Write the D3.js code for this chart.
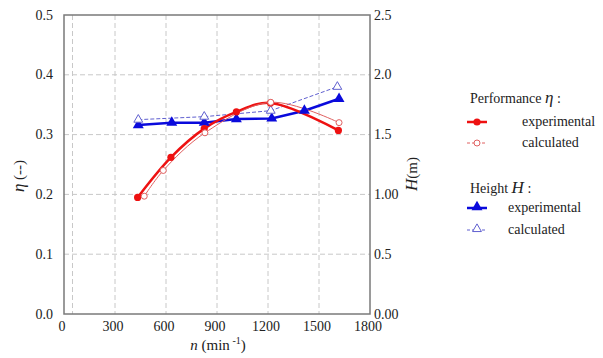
<!DOCTYPE html>
<html><head><meta charset="utf-8">
<script src="https://cdn.jsdelivr.net/npm/d3@7"></script>
<style>body{margin:0;background:#fff}svg{display:block}svg text,svg tspan{font-family:"Liberation Serif",serif !important;}</style>
</head><body><svg id="c" width="603" height="358"></svg>
<script>
const xTicks = [0,300,600,900,1200,1500,1800];
const xGrid = [50,300,600,900,1200,1500];
const etaTicks = [0,0.1,0.2,0.3,0.4,0.5];
const etaTickLabels = ["0.0","0.1","0.2","0.3","0.4","0.5"];
const hTicks = [0,0.5,1,1.5,2,2.5];
const hTickLabels = ["0.00","0.5","1.00","1.5","2.0","2.5"];

const etaExpN = [433,629,825,1014,1215,1614];
const etaExpV = [0.195,0.262,0.310,0.338,0.353,0.307];
const etaCalN = [472,584,829,1216,1618];
const etaCalV = [0.197,0.240,0.303,0.354,0.320];
const hExpN = [437,634,825,1014,1222,1414,1618];
const hExpV = [1.58,1.60,1.60,1.63,1.635,1.70,1.80];
const hCalN = [437,825,1216,1608];
const hCalV = [1.625,1.65,1.70,1.90];

const FF = "Liberation Serif";
const svg = d3.select("#c").style("font-family",FF);
const L=64,R=370,T=15,B=314;
const x = d3.scaleLinear().domain([0,1800]).range([L,R]);
const yE = d3.scaleLinear().domain([0,0.5]).range([B,T]);
const yH = d3.scaleLinear().domain([0,2.5]).range([B,T]);

const g = svg.append("g");
g.selectAll("line.v").data(xGrid).enter().append("line")
 .attr("x1",d=>x(d)).attr("x2",d=>x(d)).attr("y1",T).attr("y2",B)
 .attr("stroke","#c8c8c8").attr("stroke-width",1).attr("stroke-dasharray","5,3");
g.selectAll("line.h").data(etaTicks.slice(1,5)).enter().append("line")
 .attr("x1",L).attr("x2",R).attr("y1",d=>yE(d)).attr("y2",d=>yE(d))
 .attr("stroke","#c8c8c8").attr("stroke-width",1).attr("stroke-dasharray","5,3");

svg.append("rect").attr("x",L).attr("y",T).attr("width",R-L).attr("height",B-T)
 .attr("fill","none").attr("stroke","#7a7a7a").attr("stroke-width",1.5);

function txt(sel,x0,y0,s,anchor,size){
  const t = sel.append("text").attr("x",x0).attr("y",y0).attr("text-anchor",anchor||"start")
   .attr("font-size",size||14).attr("fill","#222").style("font-family",FF);
  t.append("tspan").style("font-family",FF).text(s);
  return t;
}
const fs=14;
xTicks.forEach(d=>txt(svg,x(d)-2,331,String(d),"middle",fs));
etaTicks.forEach((d,i)=>txt(svg,53,yE(d)+4.5,etaTickLabels[i],"end",fs));
hTicks.forEach((d,i)=>txt(svg,374,yH(d)+4.5,hTickLabels[i],"start",fs));

const xt = svg.append("text").attr("x",218).attr("y",350).attr("text-anchor","middle").attr("font-size",15).attr("fill","#222");
xt.append("tspan").attr("font-style","italic").text("n");
xt.append("tspan").text(" (min");
xt.append("tspan").attr("dy",-6).attr("font-size",10).text(" -1");
xt.append("tspan").attr("dy",6).text(")");

const yt = svg.append("text").attr("transform","translate(24,176) rotate(-90)").attr("text-anchor","middle").attr("font-size",15).attr("fill","#222");
yt.append("tspan").attr("font-style","italic").attr("font-size",17).text("η");
yt.append("tspan").text(" (--)");
const ht = svg.append("text").attr("transform","translate(417,174) rotate(-90)").attr("text-anchor","middle").attr("font-size",15).attr("fill","#222");
ht.append("tspan").attr("font-style","italic").attr("font-size",17).text("H");
ht.append("tspan").text("(m)");

const red="#ee1111", blue="#0a0adc", lred="#e06060", lblue="#6060d0";
const pts=(N,V)=>N.map((n,i)=>[n,V[i]]);
const lineE = d3.line().x(d=>x(d[0])).y(d=>yE(d[1])).curve(d3.curveCatmullRom.alpha(0.5));
const lineH = d3.line().x(d=>x(d[0])).y(d=>yH(d[1]));

const etaCal = pts(etaCalN,etaCalV), etaExp = pts(etaExpN,etaExpV);
const hCal = pts(hCalN,hCalV), hExp = pts(hExpN,hExpV);

svg.append("path").attr("d",lineH(hExp)).attr("fill","none").attr("stroke",blue).attr("stroke-width",2.5);
svg.append("path").attr("d",lineH(hCal)).attr("fill","none").attr("stroke",lblue).attr("stroke-width",1).attr("stroke-dasharray","4,2");
svg.append("path").attr("d",lineE(etaExp)).attr("fill","none").attr("stroke",red).attr("stroke-width",2.5);
svg.append("path").attr("d",lineE(etaCal)).attr("fill","none").attr("stroke",lred).attr("stroke-width",1);

const triBig = d3.symbol().type(d3.symbolTriangle).size(52)();
const triSmall = d3.symbol().type(d3.symbolTriangle).size(34)();
svg.selectAll("path.he").data(hExp).enter().append("path")
 .attr("d",triBig).attr("transform",d=>`translate(${x(d[0])},${yH(d[1])})`).attr("fill",blue);
svg.selectAll("path.hc").data(hCal).enter().append("path")
 .attr("d",triSmall).attr("transform",d=>`translate(${x(d[0])},${yH(d[1])})`)
 .attr("fill","#fff").attr("stroke",lblue).attr("stroke-width",1);
svg.selectAll("circle.ee").data(etaExp).enter().append("circle")
 .attr("cx",d=>x(d[0])).attr("cy",d=>yE(d[1])).attr("r",3.6).attr("fill",red);
svg.selectAll("circle.ec").data(etaCal).enter().append("circle")
 .attr("cx",d=>x(d[0])).attr("cy",d=>yE(d[1])).attr("r",3).attr("fill","#fff").attr("stroke",lred).attr("stroke-width",1);

const lg = svg.append("g");
const lt1 = lg.append("text").attr("x",470).attr("y",103).attr("font-size",14).attr("fill","#222");
lt1.append("tspan").text("Performance ");
lt1.append("tspan").attr("font-style","italic").attr("font-size",17).text("η");
lt1.append("tspan").text(" :");
lg.append("line").attr("x1",467).attr("x2",487).attr("y1",122).attr("y2",122).attr("stroke",red).attr("stroke-width",2.5);
lg.append("circle").attr("cx",477).attr("cy",122).attr("r",3.6).attr("fill",red);
txt(lg,522,126,"experimental","start",14);
lg.append("line").attr("x1",467).attr("x2",487).attr("y1",143).attr("y2",143).attr("stroke",lred).attr("stroke-width",1).attr("stroke-dasharray","3,2");
lg.append("circle").attr("cx",477).attr("cy",143).attr("r",3).attr("fill","#fff").attr("stroke",lred);
txt(lg,522,147,"calculated","start",14);

const lt2 = lg.append("text").attr("x",470).attr("y",193).attr("font-size",14).attr("fill","#222");
lt2.append("tspan").text("Height ");
lt2.append("tspan").attr("font-style","italic").attr("font-size",17).text("H");
lt2.append("tspan").text(" :");
lg.append("line").attr("x1",467).attr("x2",487).attr("y1",208).attr("y2",208).attr("stroke",blue).attr("stroke-width",2.5);
lg.append("path").attr("d",triBig).attr("transform","translate(477,207)").attr("fill",blue);
txt(lg,508,212,"experimental","start",14);
lg.append("line").attr("x1",467).attr("x2",487).attr("y1",230).attr("y2",230).attr("stroke",lblue).attr("stroke-width",1).attr("stroke-dasharray","3,2");
lg.append("path").attr("d",triSmall).attr("transform","translate(477,229)").attr("fill","#fff").attr("stroke",lblue);
txt(lg,508,234,"calculated","start",14);
</script></body></html>
